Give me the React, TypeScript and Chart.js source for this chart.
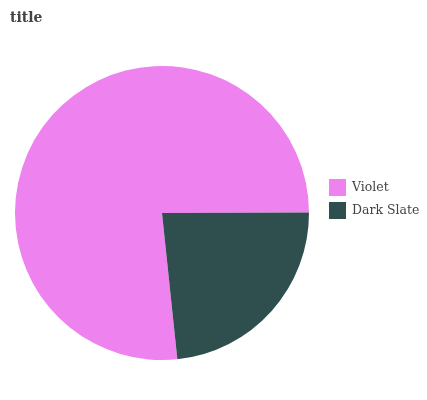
import React, { useEffect, useRef } from "react";
import { Chart, registerables } from "chart.js";

Chart.register(...registerables);

const categories = ["Violet", "Dark Slate"];
const values = [76.6, 23.4];
const colors = ["#EE82EE", "#2F4F4F"];
const titleText = "title";

const overlayPlugin = {
  id: "overlay",
  afterDraw(chart: any) {
    const ctx = chart.ctx;
    ctx.save();
    ctx.fillStyle = "#444444";
    ctx.font = "bold 14px 'DejaVu Serif'";
    ctx.textBaseline = "alphabetic";
    ctx.textAlign = "left";
    ctx.fillText(titleText, 10, 22);
    ctx.font = "12.5px 'DejaVu Serif'";
    ctx.textBaseline = "middle";
    categories.forEach((c, i) => {
      const y = 179 + i * 23;
      ctx.fillStyle = colors[i];
      ctx.fillRect(329, y, 17, 17);
      ctx.fillStyle = "#444444";
      ctx.fillText(c, 352, y + 8.5);
    });
    ctx.restore();
  },
};

export default function App() {
  const ref = useRef<HTMLCanvasElement>(null);
  useEffect(() => {
    document.body.style.margin = "0";
    const chart = new Chart(ref.current!, {
      type: "pie",
      data: {
        labels: categories,
        datasets: [
          {
            data: values,
            backgroundColor: colors,
            borderWidth: 0,
          },
        ],
      },
      options: {
        animation: false,
        responsive: false,
        rotation: 174,
        layout: { padding: { left: 15, top: 66, right: 118, bottom: 40 } },
        plugins: {
          legend: { display: false },
          title: { display: false },
          tooltip: { enabled: false },
        },
      },
      plugins: [overlayPlugin],
    });
    return () => chart.destroy();
  }, []);
  return <canvas ref={ref} width={427} height={400} style={{ display: "block" }} />;
}
